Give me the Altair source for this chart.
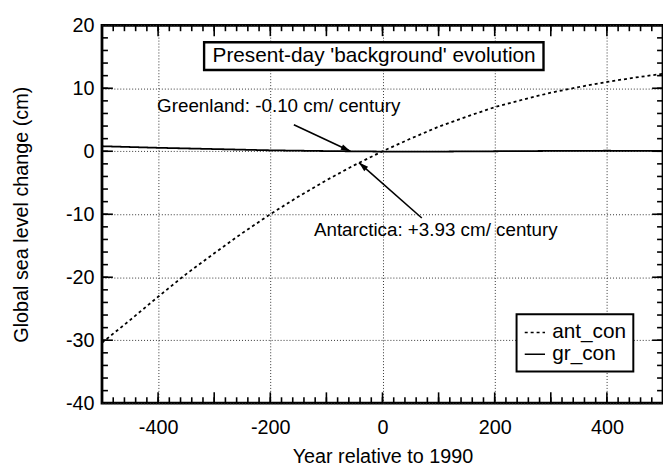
import math
import altair as alt
import pandas as pd

# ---------------- data ----------------
years = [-500, -450, -400, -350, -300, -250, -200, -150, -100, -50, 0,
         50, 100, 150, 200, 250, 300, 350, 400, 450, 500]
ant_con = [-30.4, -26.8, -23.1, -19.5, -16.2, -13.0, -10.0, -7.2, -4.6, -2.2, 0.0,
           2.0, 3.9, 5.5, 7.0, 8.2, 9.3, 10.2, 11.0, 11.7, 12.3]
gr_years = [-500, -400, -300, -200, -100, 0, 100, 200, 300, 400, 500]
gr_con = [0.8, 0.55, 0.35, 0.15, 0.03, -0.05, -0.05, 0.0, 0.05, 0.08, 0.05]

x_labels = [-400, -200, 0, 200, 400]
y_labels = [-40, -30, -20, -10, 0, 10, 20]
x_minor = list(range(-480, 500, 20))
x_major = list(range(-400, 500, 100))
y_minor = list(range(-38, 20, 2))
y_major = list(range(-30, 20, 10))

title_text = ["Present-day 'background' evolution"]
title_box = {"x": [-318], "x2": [287], "y": [12.9], "y2": [17.3]}
title_pos = {"x": [-15], "y": [15.1]}

notes = ["Greenland: -0.10 cm/ century", "Antarctica: +3.93 cm/ century"]
notes_x = [-185, 95]
notes_y = [7.2, -12.5]
arrow_x1 = [-158, 70]
arrow_y1 = [4.2, -10.6]
arrow_x2 = [-57, -42]
arrow_y2 = [0.0, -1.8]

W, H = 567, 382
XD = [-500, 500]
YD = [-40, 20]
FONT = "Liberation Sans"

# ---------------- tables ----------------
df = pd.concat([
    pd.DataFrame({"year": years, "val": ant_con, "series": "ant_con"}),
    pd.DataFrame({"year": gr_years, "val": gr_con, "series": "gr_con"}),
])

pxx = W / (XD[1] - XD[0])
pxy = H / (YD[1] - YD[0])
angles = []
for a, b, c, d in zip(arrow_x1, arrow_y1, arrow_x2, arrow_y2):
    dx = (c - a) * pxx
    dy = -(d - b) * pxy
    angles.append(math.degrees(math.atan2(dx, -dy)) % 360)
arrows = pd.DataFrame({"x": arrow_x1, "y": arrow_y1, "x2": arrow_x2, "y2": arrow_y2, "angle": angles})
notes_df = pd.DataFrame({"text": notes, "x": notes_x, "y": notes_y})

xs = alt.Scale(domain=XD, nice=False, zero=False)
ys = alt.Scale(domain=YD, nice=False, zero=False)

x_axis = alt.Axis(values=x_labels, title="Year relative to 1990", labelFontSize=20,
                  titleFontSize=20, titleFontWeight="normal", labelFont=FONT, titleFont=FONT,
                  labelColor="black", titleColor="black", ticks=False, domain=False,
                  labelExpr="datum.value + ''",
                  labelPadding=15, titlePadding=9, grid=True, gridDash=[1, 2],
                  gridColor="#333", gridWidth=1, gridOpacity=1)
y_axis = alt.Axis(values=y_labels, title="Global sea level change (cm)", labelFontSize=20,
                  titleFontSize=20, titleFontWeight="normal", labelFont=FONT, titleFont=FONT,
                  labelColor="black", titleColor="black", ticks=False, domain=False,
                  labelExpr="datum.value + ''",
                  labelPadding=8, titlePadding=34, grid=True, gridDash=[1, 2],
                  gridColor="#333", gridWidth=1, gridOpacity=1)


def X(f):
    return alt.X(f, type="quantitative", scale=xs, axis=x_axis)


def Y(f):
    return alt.Y(f, type="quantitative", scale=ys, axis=y_axis)


lines = alt.Chart(df).mark_line(color="black", strokeWidth=1.8).encode(
    x=X("year"),
    y=Y("val"),
    strokeDash=alt.StrokeDash(
        "series:N",
        scale=alt.Scale(domain=["ant_con", "gr_con"], range=[[3, 3], [1, 0]]),
        legend=alt.Legend(orient="none", legendX=419, legendY=292, title=None,
                          strokeColor="black", fillColor="white", padding=7,
                          labelFontSize=21, labelFont=FONT, labelColor="black",
                          symbolType="stroke", symbolSize=420, symbolStrokeWidth=1.6,
                          symbolStrokeColor="black", rowPadding=0, labelOffset=6),
    ),
    detail="series:N",
)


def xticks(vals, length, top):
    d = pd.DataFrame({"x": vals})
    if top:
        yy, yy2 = alt.value(0), alt.value(length)
    else:
        yy, yy2 = alt.value(H), alt.value(H - length)
    return alt.Chart(d).mark_rule(color="black", strokeWidth=1.6).encode(
        x=X("x"), y=yy, y2=yy2)


def yticks(vals, length, right):
    d = pd.DataFrame({"y": vals})
    if right:
        xx, xx2 = alt.value(W), alt.value(W - length)
    else:
        xx, xx2 = alt.value(0), alt.value(length)
    return alt.Chart(d).mark_rule(color="black", strokeWidth=1.6).encode(
        y=Y("y"), x=xx, x2=xx2)


ticks = [xticks(x_minor, 6, False), xticks(x_major, 11, False),
         xticks(x_minor, 6, True), xticks(x_major, 11, True),
         yticks(y_minor, 6, False), yticks(y_major, 11, False),
         yticks(y_minor, 6, True), yticks(y_major, 11, True)]

box = alt.Chart(pd.DataFrame(title_box)).mark_rect(
    fill="white", stroke="black", strokeWidth=2.4).encode(
    x=X("x"), x2="x2:Q", y=Y("y"), y2="y2:Q")
box_text = alt.Chart(pd.DataFrame({"t": title_text, **title_pos})).mark_text(
    fontSize=21, font=FONT, color="black", align="center", baseline="middle").encode(
    x=X("x"), y=Y("y"), text="t:N")

note_text = alt.Chart(notes_df).mark_text(
    fontSize=19, font=FONT, color="black", align="center", baseline="middle").encode(
    x=X("x"), y=Y("y"), text="text:N")

arrow_lines = alt.Chart(arrows).mark_rule(color="black", strokeWidth=1.6).encode(
    x=X("x"), y=Y("y"), x2="x2:Q", y2="y2:Q")
arrow_heads = alt.Chart(arrows).mark_point(
    shape="M0,0L-0.3,1L0.3,1Z", filled=True, color="black", opacity=1, size=380).encode(
    x=X("x2"), y=Y("y2"),
    angle=alt.Angle("angle:Q", scale=None))

chart = alt.layer(lines, *ticks, box, box_text, note_text, arrow_lines, arrow_heads).properties(
    width=W, height=H,
    background="white",
    autosize=alt.AutoSizeParams(type="none"),
    padding={"left": 95, "top": 15, "right": 0, "bottom": 62},
).configure_view(stroke="black", strokeWidth=2.8).configure_legend(strokeWidth=2)

chart.save("out.html", embed_options={"renderer": "svg", "actions": False})
